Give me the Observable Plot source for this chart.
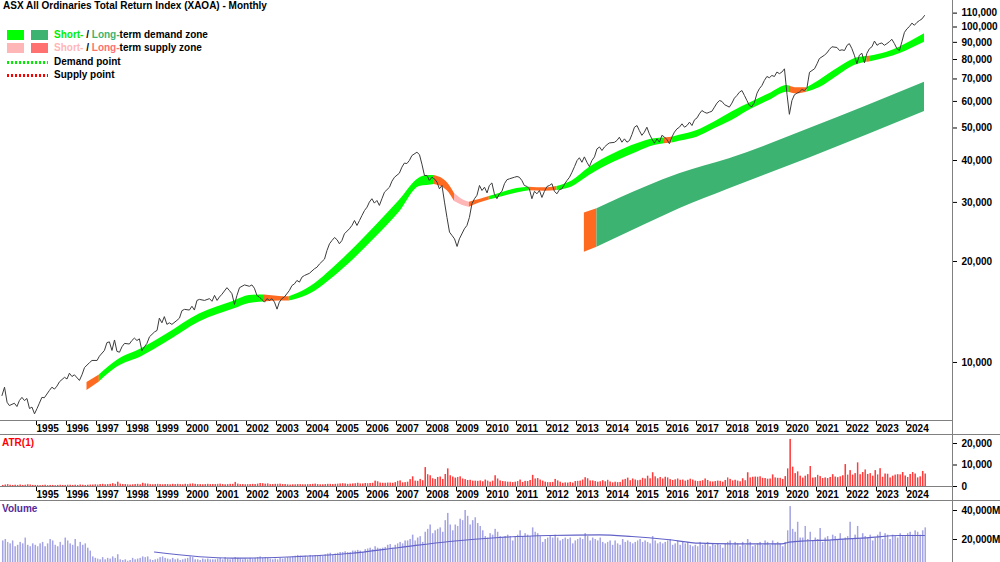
<!DOCTYPE html>
<html><head><meta charset="utf-8">
<script src="https://cdn.jsdelivr.net/npm/d3@7"></script>
<script src="https://cdn.jsdelivr.net/npm/@observablehq/plot@0.6"></script>
<style>
body{margin:0;background:#fff;}
#wrap{position:relative;width:1000px;height:562px;overflow:hidden;font-family:"Liberation Sans",Arial,sans-serif;font-weight:bold;font-size:10px;color:#000;}
#wrap svg{font-weight:bold;}
.panel{position:absolute;left:0;}
.ln{position:absolute;background:#808080;}
.lg{position:absolute;white-space:nowrap;line-height:12px;}
.sw{position:absolute;width:17px;height:10px;}
.dot{position:absolute;width:41px;height:3px;}
</style></head><body><div id="wrap"></div>
<script>
// ---------------- DATA ----------------
const priceStart = "1993-12";
// monthly closes (null = not read)
const priceClose = [
 7970,
 8440,7610,7440,null,7560,7390,7700,7870,7700,7810,7290,7360,
 7030,7290,7560,7870,7850,null,8250,8440,8330,8500,8760,null,
 9030,8930,9290,9080,9190,null,8840,9190,9660,null,9990,10140,
 null,10140,10440,null,10860,11460,11520,10860,11670,10790,10730,11140,
 11400,null,11350,11630,11820,11630,11760,10840,11140,11400,11930,null,
 12330,12460,13560,13130,13700,12990,13130,12990,null,13350,13560,14270,
 14400,null,14330,14710,14330,15310,15420,null,15310,null,15500,15220,
 15850,15310,15670,15970,null,16710,16390,16030,14900,15850,16710,null,
 17030,null,16870,17030,16650,15850,15670,null,15130,15500,15310,15500,
 15130,14420,15130,15500,15670,null,16390,16950,17150,17560,17360,17960,
 18170,null,18440,null,19020,19230,19650,null,20330,21570,22590,23100,
 23580,23210,22590,23100,24180,null,25030,25610,26500,25610,26500,27430,
 28380,29040,30060,30770,29860,30400,29390,30770,32190,null,33300,34710,
 35660,null,36660,38210,39290,39180,40000,41380,null,42340,41650,39000,
 36090,36090,34870,35660,35280,34480,32940,33700,30060,27060,24460,23920,
 23360,22170,23360,null,25030,25610,27060,29730,30770,31490,33700,32560,
 33300,32030,33700,34290,31830,30770,31830,32370,34110,35050,35280,null,
 35660,35840,35660,34870,33700,33470,32940,30770,32370,31830,32560,31040,
 32370,33470,33700,34110,32370,31830,32740,32940,34000,34870,35660,36890,
 38360,40000,40760,39520,41010,39520,38360,40000,41010,43300,43900,42840,
 43900,44600,45120,null,45300,45880,46930,45360,46410,45360,45880,47790,
 50270,50850,49140,47540,48580,50270,48020,46410,45040,46410,45360,47540,
 47000,46150,44900,47000,48580,49700,50270,51450,50270,50850,52040,50850,
 52890,53600,55100,56370,55720,55340,55720,56100,57700,59300,60370,60000,
 58700,null,57700,59300,61340,62490,63900,64660,62490,60370,58300,57860,
 59650,63500,65420,66900,69250,71200,70600,71700,71200,73400,72600,73400,
 75050,63000,54920,60370,62800,63500,64000,65100,64660,65900,73300,74170,
 75050,77700,80500,null,82400,83700,85700,87300,null,86900,85100,85500,
 85100,88200,89200,86200,82400,77700,82400,83500,78200,83500,86200,87300,
 90800,88200,89200,89600,88200,89200,90400,91900,89200,86200,85100,90400,
 96400,98800,100300,102700,101200,103200,104500,105700,108200
];
// short-term zone: [month, upper, lower]
const shortZone = [
 ["1996-10",8720,8250],["1997-03",9180,8750],["1997-10",10140,9670],["1998-08",11010,10420],
 ["1999-06",12160,11500],["2000-07",13950,13200],["2001-09",15260,14460],["2002-03",15840,15000],
 ["2002-09",15900,15150],["2003-03",15740,15250],["2003-07",15690,15260],["2004-02",16580,15840],
 ["2005-03",19910,18590],["2006-05",25310,23370],["2007-03",30400,28050],["2007-11",35480,33470],
 ["2008-02",36090,33700],["2008-05",36090,33920],["2008-10",34470,32560],["2009-01",31890,30190],
 ["2009-05",30400,29270],["2009-07",30060,29040],["2009-11",30610,29880],["2010-03",31250,30500],
 ["2010-07",31890,31030],["2011-02",33010,32030],["2011-07",33300,32500],["2012-01",33170,32410],
 ["2012-06",33470,32560],["2012-12",34760,33360],["2013-07",38130,36090],["2014-05",41960,39590],
 ["2015-02",44850,42340],["2015-09",46420,44330],["2016-01",46650,44850],["2016-04",46930,45100],
 ["2016-07",47540,45660],["2017-02",49140,46960],["2017-09",52090,49720],["2018-04",55800,52630],
 ["2018-12",59750,57030],["2019-07",63200,60370],["2020-02",66920,63900],["2020-03",66680,63770],
 ["2020-06",65870,63200],["2020-10",65870,63900],["2021-03",69250,65870],["2021-10",75050,71190],
 ["2022-05",80380,76760],["2022-10",81630,78530],["2022-11",81800,78640],["2023-06",84120,80920],
 ["2023-11",87070,83290],["2024-09",95420,90100]
];
const shortZoneKinds = [
 ["1996-10","1997-03","supply"],["1997-03","2002-09","demand"],["2002-09","2003-07","supply"],
 ["2003-07","2008-05","demand"],["2008-05","2009-01","supply"],["2009-01","2009-07","weakSupply"],
 ["2009-07","2010-03","supply"],["2010-03","2011-07","demand"],["2011-07","2012-06","supply"],
 ["2012-06","2016-01","demand"],["2016-01","2016-04","supply"],["2016-04","2020-03","demand"],
 ["2020-03","2020-10","supply"],["2020-10","2022-10","demand"],["2022-10","2022-11","supply"],
 ["2022-11","2024-09","demand"]
];
const longZone = [
 ["2013-05",27890,21320],["2013-10",28710,22060],["2015-06",33470,25900],["2016-07",36510,28710],
 ["2018-03",40470,32940],["2020-11",49820,40720],["2024-09",68450,55980]
];
const longZoneKinds = [["2013-05","2013-10","supply"],["2013-10","2024-09","longDemand"]];

const atrStart = "1993-12";
const atr = [
 500,
 700,900,600,500,600,500,700,500,600,800,700,500,
 500,500,400,500,600,400,500,500,400,500,600,500,
 500,600,600,500,600,500,700,600,500,600,700,700,
 800,700,900,1000,800,900,1000,1300,1000,2000,1100,900,
 900,800,700,800,900,1000,800,1500,1200,1100,900,800,
 900,1000,900,800,900,900,800,1000,900,1000,900,800,
 1000,900,1100,1200,1000,900,900,800,900,1000,900,900,
 900,1000,1100,900,800,900,1000,1000,1900,1100,900,900,
 800,900,900,1000,900,1100,1400,1300,1100,1200,900,900,
 1000,1000,1100,900,900,800,700,800,800,900,900,800,
 800,900,900,1000,1100,900,800,800,900,1000,1000,900,
 1000,1100,1200,1300,1200,1000,1100,1200,1300,1500,1200,1200,
 1400,1300,1400,1500,2500,2200,1600,1500,1500,1600,1600,1500,
 1800,2400,2600,1700,1800,2000,3200,4500,2500,2400,3300,2700,
 8800,5500,5000,3600,3300,4200,4400,3300,5600,8200,5000,4400,
 3900,4200,4500,3500,3200,2800,2900,2500,2500,2400,2600,2200,
 3000,2500,2000,2500,5000,3500,2600,2300,2200,2000,2000,1800,
 2000,2300,3000,1900,2400,2300,2800,5200,3500,3700,3000,2500,
 2000,1800,1800,1900,3300,2600,2000,1500,1700,1600,1900,1600,
 2300,2400,2500,3000,4100,3600,2600,2600,2300,2000,2200,2700,
 2200,2900,2100,1700,2000,1800,1900,3000,3300,3900,2700,3500,
 3000,2700,2900,3800,3500,4800,3600,6400,4500,3600,4200,3500,
 4300,4000,3200,2800,3100,3500,2900,3000,2500,2900,3400,3000,
 2500,2300,2400,2700,3500,2800,2200,2100,2300,2500,2400,2000,
 2800,4000,3300,2600,2900,2500,2200,3600,2700,6400,4000,4300,
 4400,4300,4500,3800,3700,3400,3500,5400,4000,3800,3800,3300,
 4600,8200,21900,9000,6000,6800,4800,3900,4800,5500,9300,3900,
 4100,5200,4600,3700,4000,3700,4200,5500,4400,4100,4500,5000,
 10200,5300,7400,5300,6000,11000,5500,6500,7700,5600,6000,4800,
 7400,5400,8300,4300,5800,5700,4000,4800,5300,5500,5400,6500,
 4900,4200,5600,6500,5800,4000,4500,7000,5800
];

const volumeStart = "1993-12";
// monthly volume, millions
const volumeM = [
 19000,
 20000,18000,17000,19000,15000,16000,18000,17000,21000,16000,15000,17000,
 16000,15000,17000,18000,15000,17000,20000,19000,16000,15000,18000,16000,
 21000,19000,17000,16000,20000,15000,18000,16000,17000,14000,12000,8000,
 7000,6500,6000,7500,6000,7000,6500,8000,7000,9500,6000,5500,
 6000,5000,5500,7000,6000,6500,7000,8000,7500,8000,6000,5500,
 6000,6500,7500,8000,7000,6500,6000,7000,6000,6500,5500,6000,
 6500,7000,8000,7500,6000,6000,5500,6500,6000,6500,6000,6000,
 6000,6500,7000,6000,7500,6500,6000,6500,7500,7000,6500,6000,
 6500,6000,7000,6500,7000,7500,8000,7000,7500,7000,6500,6000,
 6500,6000,7000,6500,7000,7500,7500,8000,8500,9000,8500,7500,
 8500,8000,9000,8500,9000,8500,9000,8500,9500,10000,10500,9000,
 10000,10500,11000,11000,11500,11000,11000,12000,12000,12500,12000,11000,
 13000,13500,14000,13000,15000,14000,13500,14000,14500,16000,16500,14000,
 16000,17000,18000,17000,19000,19000,20000,23000,19000,21000,22000,18000,
 25000,27000,30000,24000,26000,27000,28000,25000,33000,38000,30000,26000,
 30000,29000,34000,33000,40000,36000,30000,33000,35000,31000,29000,26000,
 22000,21000,24000,23000,27000,25000,22000,21000,22000,23000,22000,19000,
 22000,23000,26000,22000,24000,23000,22000,28000,25000,24000,22000,18000,
 20000,21000,22000,21000,23000,21000,19000,20000,21000,20000,21000,17000,
 19000,20000,21000,20000,24000,22000,19000,21000,20000,19000,21000,18000,
 17000,18000,19000,16000,19000,17000,16000,20000,18000,19000,18000,17000,
 18000,19000,20000,18000,19000,18000,17000,22000,19000,17000,18000,17000,
 18000,19000,20000,16000,17000,19000,16000,18000,17000,18000,16000,15000,
 16000,15000,18000,16000,17000,18000,15000,17000,16000,17000,16000,14000,
 17000,18000,19000,16000,18000,17000,15000,18000,16000,20000,18000,15000,
 16000,17000,18000,16000,19000,18000,16000,19000,17000,18000,17000,15000,
 18000,26000,42700,27000,25000,31900,21000,21000,29000,20000,25000,19000,
 21000,20000,27600,18000,21000,22000,19000,23000,22000,20000,24000,20000,
 21000,22000,31900,20000,23000,29000,20000,24000,22000,21000,23000,19000,
 21000,23000,25000,20000,24000,23000,20000,23000,22000,21000,24000,22000,
 22000,24000,25000,23000,26000,25000,23000,26000,28000
];
const volumeAvg = [
 ["1999-01",11380],["2001-08",7100],["2003-11",8280],["2005-07",10340],["2007-03",14480],
 ["2008-11",18620],["2010-07",21380],["2012-03",22760],["2013-11",23240],["2014-12",22070],
 ["2016-02",20000],["2017-03",17450],["2018-04",17030],["2019-12",17030],["2020-03",18140],
 ["2021-08",19790],["2022-10",21170],["2023-11",22760],["2024-09",22760]
];
const mainTicks = [10000,20000,30000,40000,50000,60000,70000,80000,90000,100000,110000];
const atrTicks = [0,10000,20000];
const volTicks = [20000,40000];
const yearLabels = d3.range(1995, 2025);

// ---------------- BUILD ----------------
const parse = d3.utcParse("%Y-%m");
const dense = (start, arr) => arr.map((v,i) => ({date: d3.utcMonth.offset(parse(start), i), v})).filter(d => d.v != null);
const price = dense(priceStart, priceClose);
const atrData = dense(atrStart, atr);
const volData = dense(volumeStart, volumeM);
const zoneRows = z => z.map(([d,hi,lo]) => ({date: parse(d), hi, lo}));
const sz = zoneRows(shortZone), lz = zoneRows(longZone);
const avgData = volumeAvg.map(([d,v]) => ({date: parse(d), v}));
const colors = {demand:"#00ff00", supply:"#ff6a21", weakSupply:"#ffb6b6", longDemand:"#3cb371"};
const segs = (rows, kinds) => kinds.map(([s,e,k]) => Plot.areaY(
  rows.filter(r => r.date >= parse(s) && r.date <= parse(e)),
  {x:"date", y1:"lo", y2:"hi", fill: colors[k], curve:"monotone-x"}));

const xDomain = [new Date(Date.UTC(1993,10,13)), new Date(Date.UTC(2025,7,8))];
const yearTicks = yearLabels.map(y => new Date(Date.UTC(y,0,1)));
const font = {fontFamily:'"Liberation Sans", Arial, sans-serif', fontSize:"10px", fontWeight:"bold", color:"#000", background:"transparent", overflow:"visible"};
const fmt = d3.format(",");
const rightAxis = (ticks, f) => [
  Plot.axisY({anchor:"right", ticks, tickSize:4, tickFormat: () => "", label:null}),
  Plot.text(ticks, {y: d => d, text: f, frameAnchor:"right", textAnchor:"start", dx:9, fill:"#000"})
];
const yearAxis = () => Plot.axisX({ticks: yearTicks, tickFormat:"%Y", tickSize:5, tickPadding:-1, textAnchor:"start", dx:2, label:null});

const wrap = document.getElementById("wrap");
function place(el, top){ el.classList.add("panel"); el.style.top = top + "px"; wrap.appendChild(el); }

const main = Plot.plot({
  width: 1000, height: 434, marginLeft: 0, marginRight: 48, marginTop: 0, marginBottom: 14,
  x: {type:"utc", domain: xDomain},
  y: {type:"log", domain: [6715, 119950]},
  style: font,
  marks: [
    ...segs(lz, longZoneKinds),
    ...segs(sz, shortZoneKinds),
    Plot.line(price, {x:"date", y:"v", stroke:"#3c3c3c", strokeWidth:1}),
    ...rightAxis(mainTicks, d => fmt(d)),
    yearAxis()
  ]
});
place(main, 0);

const atrPlot = Plot.plot({
  width: 1000, height: 65, marginLeft: 0, marginRight: 48, marginTop: 0, marginBottom: 14,
  x: {type:"utc", domain: xDomain},
  y: {domain: [0, 23721]},
  style: font,
  marks: [
    Plot.rectY(atrData, {x:"date", interval: d3.utcMonth, y:"v", fill:"#ff3b3b", insetLeft:0.5, insetRight:0.5}),
    ...rightAxis(atrTicks, d => fmt(d)),
    yearAxis()
  ]
});
place(atrPlot, 435);

const volPlot = Plot.plot({
  width: 1000, height: 61, marginLeft: 0, marginRight: 48, marginTop: 0, marginBottom: 0,
  x: {type:"utc", domain: xDomain, axis: null},
  y: {domain: [4138, 46207]},
  style: font,
  marks: [
    Plot.rectY(volData, {x:"date", interval: d3.utcMonth, y:"v", fill:"#a4a4e4", insetLeft:0.5, insetRight:0.5, clip:true}),
    Plot.line(avgData, {x:"date", y:"v", stroke:"#6262c8", strokeWidth:1.2, curve:"monotone-x"}),
    ...rightAxis(volTicks, d => fmt(d) + "M")
  ]
});
place(volPlot, 501);

function line(l,t,w,h){ const d=document.createElement("div"); d.className="ln"; Object.assign(d.style,{left:l+"px",top:t+"px",width:w+"px",height:h+"px"}); wrap.appendChild(d); }
line(0,420,952,1); line(0,434,1000,1); line(0,486,952,1); line(0,500,1000,1); line(952,0,1,562);

function txt(html,l,t,extra){ const d=document.createElement("div"); d.className="lg"; d.innerHTML=html; d.style.left=l+"px"; d.style.top=t+"px"; if(extra) Object.assign(d.style,extra); wrap.appendChild(d); }
function sw(c,l,t){ const d=document.createElement("div"); d.className="sw"; d.style.background=c; d.style.left=l+"px"; d.style.top=t+"px"; wrap.appendChild(d); }
function dots(c,l,t){ const d=document.createElement("div"); d.className="dot"; d.style.background=`repeating-linear-gradient(90deg, ${c} 0 2.5px, transparent 2.5px 4px)`; d.style.left=l+"px"; d.style.top=t+"px"; wrap.appendChild(d); }
txt("ASX All Ordinaries Total Return Index (XAOA) - Monthly", 3, 0);
sw("#00ff00",7,30); sw("#3cb371",31,30);
txt('<span style="color:#00ee00">Short-</span> / <span style="color:#3cb371">Long-</span>term demand zone', 54, 29);
sw("#ffb6b6",7,43); sw("#ff7070",31,43);
txt('<span style="color:#ffb6b6">Short-</span> / <span style="color:#ff7070">Long-</span>term supply zone', 54, 42);
dots("#00ee00",7,61); txt("Demand point", 54, 56);
dots("#ff0000",7,74); txt("Supply point", 54, 69);
txt("ATR(1)", 2, 437, {color:"#ff0000"});
txt("Volume", 2, 503, {color:"#552b99"});
</script></body></html>
